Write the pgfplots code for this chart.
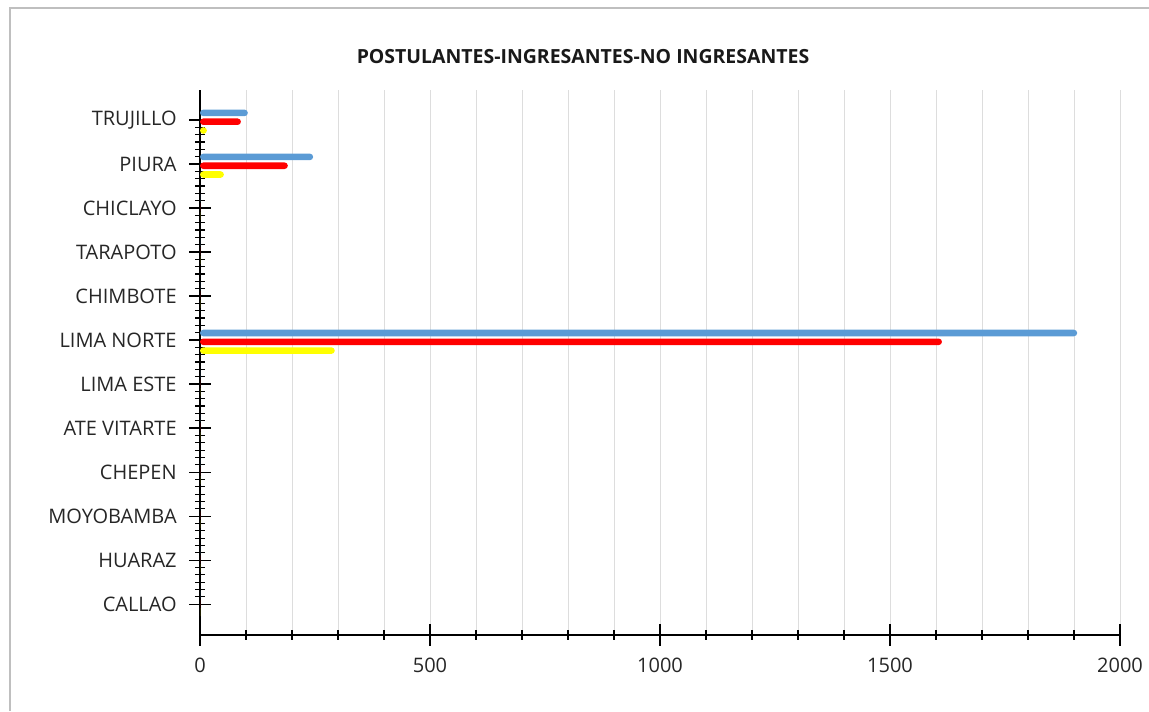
\documentclass[border=0pt]{standalone}
\usepackage{pgfplots}
\pgfplotsset{compat=1.18}
\usepackage{fontspec}
\setmainfont{Open Sans}
\definecolor{cblue}{HTML}{5B9BD5}
\definecolor{cred}{HTML}{FF0000}
\definecolor{cyel}{HTML}{FFFF00}
\definecolor{gridc}{HTML}{DDDDDD}
\definecolor{framec}{HTML}{BFBFBF}
\begin{document}
\begin{tikzpicture}
\path[use as bounding box] (0,0) rectangle (861.75pt,533.25pt);
\draw[framec, line width=1.2pt] (7.5pt,0) -- (7.5pt,527.25pt) -- (861.75pt,527.25pt);
\node[font=\bfseries\fontsize{14.6}{16}\selectfont, text=black!90] at (437.25pt,490.5pt) {POSTULANTES-INGRESANTES-NO INGRESANTES};
\begin{axis}[
  at={(150pt,57pt)}, anchor=south west,
  scale only axis, width=690pt, height=408.75pt,
  xmin=0, xmax=2000, ymin=-0.70, ymax=11.68,
  xtick={0,500,1000,1500,2000},
  minor xtick={100,200,...,1900},
  ytick={0,...,11},
  yticklabels={CALLAO,HUARAZ,MOYOBAMBA,CHEPEN,ATE VITARTE,LIMA ESTE,LIMA NORTE,CHIMBOTE,TARAPOTO,CHICLAYO,PIURA,TRUJILLO},
  minor y tick num=5,
  axis x line*=bottom, axis y line*=left,
  axis line style={-, black, line width=1pt},
  xtick align=center, ytick align=outside,
  major tick length=16pt, minor tick length=7pt,
  tick style={black, line width=0.9pt},
  major y tick style={xshift=8pt},
  minor y tick style={xshift=3.5pt},
  xmajorgrids, xminorgrids,
  grid style={gridc, line width=0.6pt},
  major x grid style={gridc, line width=0.6pt},
  minor x grid style={gridc, line width=0.6pt},
  ticklabel style={font=\fontsize{15}{17}\selectfont, text=black!85},
  /pgf/number format/assume math mode=true,
  /pgf/number format/1000 sep={},
  xticklabel style={yshift=-5.5pt},
  yticklabel style={xshift=2pt},
  xbar, bar width=0.15,
  every axis plot/.append style={draw=none, rounded corners=2.5pt},
]
\addplot[fill=cblue, bar shift=0.16] coordinates {
(0,0) (0,1) (0,2) (0,3) (0,4) (0,5) (1907,6) (0,7) (0,8) (0,9) (246,10) (104,11)};
\addplot[fill=cred, bar shift=-0.04] coordinates {
(0,0) (0,1) (0,2) (0,3) (0,4) (0,5) (1613,6) (0,7) (0,8) (0,9) (191,10) (89,11)};
\addplot[fill=cyel, bar shift=-0.24] coordinates {
(0,0) (0,1) (0,2) (0,3) (0,4) (0,5) (293,6) (0,7) (0,8) (0,9) (52,10) (15,11)};
\end{axis}
\end{tikzpicture}
\end{document}
